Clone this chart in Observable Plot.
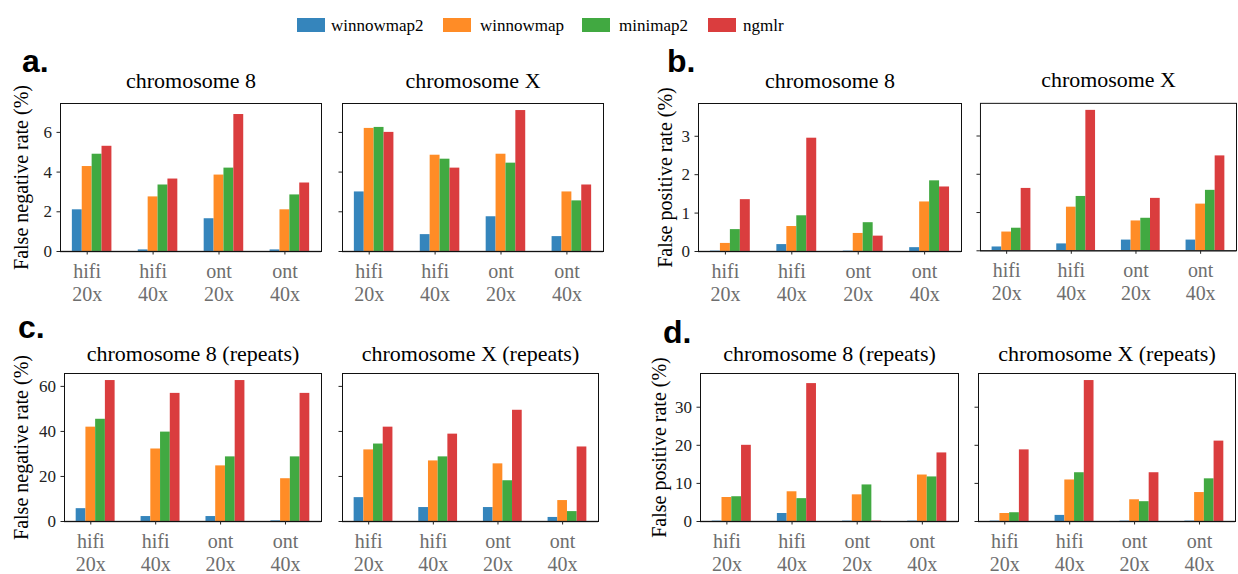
<!DOCTYPE html>
<html><head><meta charset="utf-8">
<script src="https://cdn.jsdelivr.net/npm/d3@7"></script>
<script src="https://cdn.jsdelivr.net/npm/@observablehq/plot@0.6"></script>
<style>
body{margin:0;background:#fff;}
#root{position:relative;width:1238px;height:574px;overflow:hidden;font-family:"Liberation Serif","Tinos","Times New Roman","Times","DejaVu Serif","Noto Serif",serif;background:#fff;}
.panel{position:absolute;}
.plabel{position:absolute;font-family:"Liberation Sans",Arial,Helvetica,sans-serif;font-weight:bold;font-size:32px;line-height:1;color:#000;}
.sw{position:absolute;width:28px;height:14px;}
.lt{position:absolute;font-size:17px;line-height:1;color:#000;white-space:nowrap;}
</style></head>
<body><div id="root"></div>
<script>
// ---------- data ----------
const mappers = ["winnowmap2", "winnowmap", "minimap2", "ngmlr"];
const colors = ["#3585bc", "#ff8c26", "#41a941", "#da3d3e"];
const conditions = ["hifi\n20x", "hifi\n40x", "ont\n20x", "ont\n40x"];

// rows: winnowmap2, winnowmap, minimap2, ngmlr ; columns: conditions
const fnrChr8 = [[2.1, 0.08, 1.65, 0.08], [4.28, 2.75, 3.85, 2.1], [4.9, 3.35, 4.2, 2.85], [5.3, 3.65, 6.9, 3.45]];
const fnrChrX = [[3.0, 0.85, 1.75, 0.75], [6.2, 4.85, 4.9, 3.0], [6.25, 4.65, 4.45, 2.55], [6.0, 4.2, 7.1, 3.35]];
const fprChr8 = [[0.01, 0.18, 0.01, 0.1], [0.21, 0.65, 0.47, 1.29], [0.57, 0.93, 0.75, 1.84], [1.35, 2.95, 0.40, 1.68]];
const fprChrX = [[0.1, 0.18, 0.28, 0.28], [0.49, 1.14, 0.78, 1.22], [0.59, 1.42, 0.85, 1.58], [1.63, 3.67, 1.37, 2.48]];
const fnrRepChr8 = [[5.7, 2.2, 2.2, 0.3], [41.9, 32.2, 24.7, 19.0], [45.4, 39.7, 28.7, 28.7], [62.6, 56.9, 62.6, 56.9]];
const fnrRepChrX = [[10.6, 6.2, 6.2, 1.8], [31.8, 26.9, 25.6, 9.3], [34.4, 28.7, 18.1, 4.4], [41.9, 38.8, 49.4, 33.1]];
const fprRepChr8 = [[0.1, 2.1, 0.1, 0.1], [6.3, 7.8, 7.0, 12.2], [6.5, 6.0, 9.6, 11.7], [20.0, 36.2, 0.1, 18.0]];
const fprRepChrX = [[0.1, 1.6, 0.1, 0.1], [2.1, 10.9, 5.7, 7.6], [2.3, 12.8, 5.2, 11.2], [18.8, 37.0, 12.8, 21.1]];

const ticksA = [0, 2, 4, 6];
const ticksB = [0, 1, 2, 3];
const ticksC = [0, 20, 40, 60];
const ticksD = [0, 10, 20, 30];

const titles = ["chromosome 8", "chromosome X", "chromosome 8 (repeats)", "chromosome X (repeats)"];
const yLabels = ["False negative rate (%)", "False positive rate (%)"];
const panelLetters = ["a.", "b.", "c.", "d."];

// ---------- drawing ----------
const SERIF = '"Liberation Serif", "Tinos", "Times New Roman", "Times", "DejaVu Serif", "Noto Serif", serif';
const root = document.getElementById("root");
const BW = 0.15;
const xlo = -1.5 * BW, xhi = 3 + 2.5 * BW, xpad = 0.05 * (xhi - xlo);

function chart(o) {
  const rows = [];
  o.data.forEach((vals, k) => vals.forEach((v, i) => rows.push({i, k, v, m: mappers[k], x1: i + (k - 1.5) * BW, x2: i + (k - 0.5) * BW})));
  const marks = [
    Plot.rectY(rows, {x1: "x1", x2: "x2", y1: 0, y2: "v", fill: "m"}),
    Plot.ruleY([0], {stroke: "#555", strokeWidth: 1.6, strokeOpacity: 0.9}),
    Plot.frame({stroke: "#111", strokeWidth: 1}),
    Plot.axisX({ticks: [0, 1, 2, 3], tickFormat: i => conditions[i], fontSize: 20, lineHeight: 1.17,
      fontFamily: SERIF, tickSize: 3.5, tickPadding: 6, stroke: "#222", fill: "#6e6e6e", label: null}),
    Plot.axisY({ticks: o.ticks, tickFormat: o.showY ? (d => String(d)) : (() => ""), fontSize: 17,
      fontFamily: SERIF, tickSize: 3.5, tickPadding: 5, stroke: "#222", fill: "#222", label: null}),
    Plot.text([o.title], {text: d => d, frameAnchor: "top", dy: o.titleDy, lineAnchor: "bottom", fontSize: 22,
      fontFamily: SERIF, fill: "#000"})
  ];
  if (o.ylabel) marks.push(Plot.text([o.ylabel], {text: d => d, frameAnchor: "left", rotate: -90, dx: o.ylabelDx,
    lineAnchor: "middle", textAnchor: "middle", fontSize: 20, fontFamily: SERIF, fill: "#000"}));
  const svg = Plot.plot({
    width: o.ml + o.fw + o.mr, height: o.mt + o.fh + o.mb,
    marginLeft: o.ml, marginRight: o.mr, marginTop: o.mt, marginBottom: o.mb,
    style: {fontFamily: SERIF, background: "transparent", overflow: "visible"},
    x: {type: "linear", domain: [xlo - xpad, xhi + xpad]},
    y: {domain: [0, o.ymax]},
    color: {domain: mappers, range: colors},
    marks
  });
  const div = document.createElement("div");
  div.className = "panel";
  div.style.left = (o.fl - o.ml) + "px";
  div.style.top = (o.ft - o.mt) + "px";
  div.appendChild(svg);
  root.appendChild(div);
}

const rowsSpec = [
  {pair: [fnrChr8, fnrChrX], ticks: ticksA, ylabel: yLabels[0], t: [titles[0], titles[1]], ft: 103, titleDy: -16,
    fl: [60, 342], fr: [321, 603], ldx: -39},
  {pair: [fprChr8, fprChrX], ticks: ticksB, ylabel: yLabels[1], t: [titles[0], titles[1]], ft: 103, titleDy: -16,
    fl: [698, 980], fr: [961, 1237], ldx: -33},
  {pair: [fnrRepChr8, fnrRepChrX], ticks: ticksC, ylabel: yLabels[0], t: [titles[2], titles[3]], ft: 373, titleDy: -13,
    fl: [64, 342], fr: [321, 598], ldx: -43},
  {pair: [fprRepChr8, fprRepChrX], ticks: ticksD, ylabel: yLabels[1], t: [titles[2], titles[3]], ft: 373, titleDy: -13,
    fl: [700, 978], fr: [958, 1235], ldx: -41}
];

for (const s of rowsSpec) {
  const ymax = 1.05 * d3.max(s.pair.flat(2));
  s.pair.forEach((data, j) => {
    const ml = j === 0 ? 60 : 12;
    chart({data, ymax, ticks: s.ticks, showY: j === 0, ylabel: j === 0 ? s.ylabel : null, ylabelDx: s.ldx,
      title: s.t[j], titleDy: s.titleDy, fl: s.fl[j], ft: s.ft, fw: s.fr[j] - s.fl[j], fh: 148,
      ml, mr: 2, mt: 40, mb: 54});
  });
}

// panel letters
const letterPos = [[22, 45], [667, 45], [18, 311], [663, 316]];
panelLetters.forEach((l, i) => {
  const d = document.createElement("div");
  d.className = "plabel";
  d.textContent = l;
  d.style.left = letterPos[i][0] + "px";
  d.style.top = letterPos[i][1] + "px";
  root.appendChild(d);
});

// legend
const swX = [297, 443, 582, 708];
const txX = [331, 480, 619, 743];
mappers.forEach((m, i) => {
  const s = document.createElement("div");
  s.className = "sw";
  s.style.left = swX[i] + "px"; s.style.top = "18px"; s.style.background = colors[i];
  root.appendChild(s);
  const t = document.createElement("div");
  t.className = "lt";
  t.textContent = m;
  t.style.left = txX[i] + "px"; t.style.top = "17px";
  root.appendChild(t);
});
</script>
</body></html>
